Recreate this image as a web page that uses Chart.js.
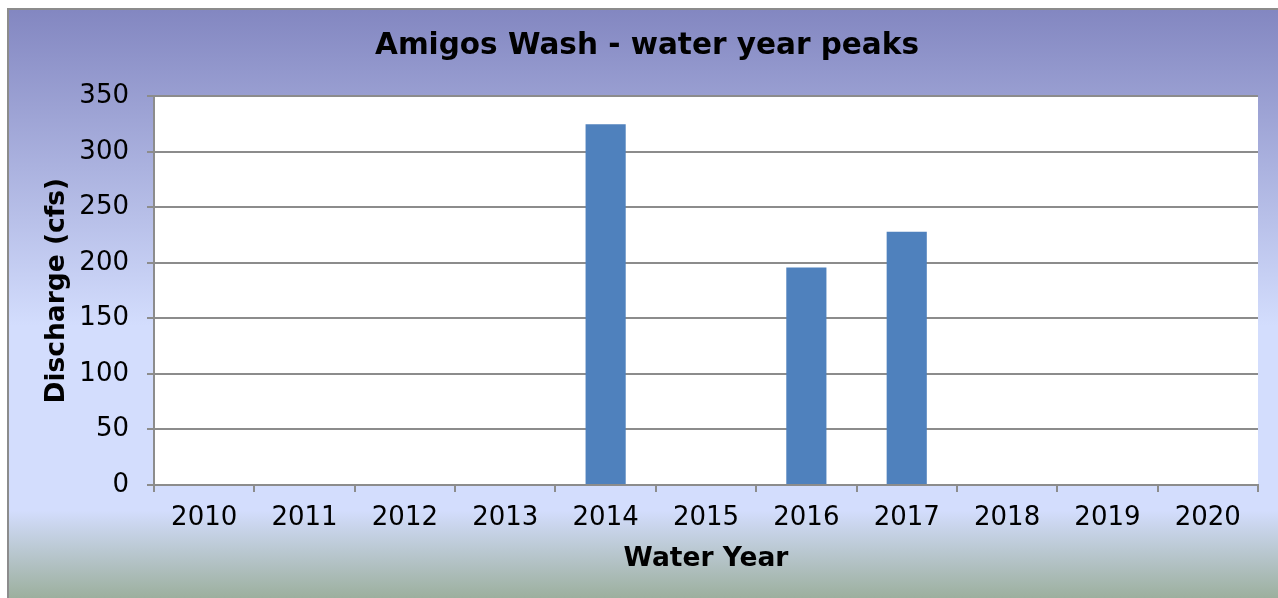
<!DOCTYPE html>
<html>
<head>
<meta charset="utf-8">
<script src="https://cdn.jsdelivr.net/npm/chart.js@4.4.1/dist/chart.umd.min.js"></script>
<style>
  html, body { margin: 0; padding: 0; width: 1278px; height: 598px; overflow: hidden; background: #fff; }
  #frame {
    position: absolute; left: 7px; top: 8px; width: 1280px; height: 600px;
    border: 2px solid #8c8c8c; box-sizing: border-box;
    background: linear-gradient(to bottom, #8387c1 0%, #d3ddfd 53%, #d3ddfd 84%, #97ab95 100%);
  }
  #wrap { position: absolute; left: 0; top: 0; width: 1278px; height: 598px; }
</style>
</head>
<body>
<div id="frame"></div>
<div id="wrap"><canvas id="chart" width="1278" height="598"></canvas></div>
<script>
// water years on the x axis
const years = ['2010', '2011', '2012', '2013', '2014', '2015', '2016', '2017', '2018', '2019', '2020'];
// peak discharge, cfs (null = no peak recorded)
const peaks = [null, null, null, null, 325, null, 196, 228, null, null, null];
const yMin = 0, yMax = 350, yStep = 50;

const FONT = 'DejaVu Sans';

// white plot area
const plotBg = {
  id: 'plotBg',
  beforeDraw(chart) {
    const {ctx, chartArea} = chart;
    ctx.save();
    ctx.fillStyle = '#ffffff';
    ctx.fillRect(chartArea.left, chartArea.top, chartArea.right - chartArea.left, chartArea.bottom - chartArea.top);
    ctx.restore();
  }
};

new Chart(document.getElementById('chart'), {
  type: 'bar',
  data: {
    labels: years,
    datasets: [{
      label: 'Peak',
      data: peaks,
      backgroundColor: '#4f81bd',
      borderWidth: 0,
      barPercentage: 0.4,
      categoryPercentage: 1.0
    }]
  },
  options: {
    responsive: false,
    animation: false,
    devicePixelRatio: 1,
    layout: { padding: { left: 36, right: 20, top: 0, bottom: 0 } },
    plugins: {
      legend: { display: false },
      tooltip: { enabled: false },
      title: {
        display: true,
        text: 'Amigos Wash - water year peaks',
        color: '#000',
        font: { family: FONT, size: 29.5, weight: 'bold' },
        padding: { top: 29, bottom: 32 }
      }
    },
    scales: {
      x: {
        grid: { drawOnChartArea: false, color: '#8c8c8c', lineWidth: 2, tickLength: 7, offset: true },
        border: { color: '#8c8c8c', width: 2 },
        ticks: { color: '#000', font: { family: FONT, size: 26 }, padding: 11, maxRotation: 0 },
        title: { display: true, text: 'Water Year', color: '#000', font: { family: FONT, size: 26.5, weight: 'bold' }, padding: { top: 0, bottom: 23 } },
        afterFit(s) { s.height = 113; }
      },
      y: {
        min: yMin, max: yMax,
        grid: { color: '#8c8c8c', lineWidth: 2, tickLength: 7 },
        border: { color: '#8c8c8c', width: 2 },
        ticks: { stepSize: yStep, color: '#000', font: { family: FONT, size: 26 }, padding: 18 },
        title: { display: true, text: 'Discharge (cfs)', color: '#000', font: { family: FONT, size: 26.5, weight: 'bold' }, padding: { top: 5, bottom: 0 } },
        afterFit(s) { s.width = 118; }
      }
    }
  },
  plugins: [plotBg]
});
</script>
</body>
</html>
